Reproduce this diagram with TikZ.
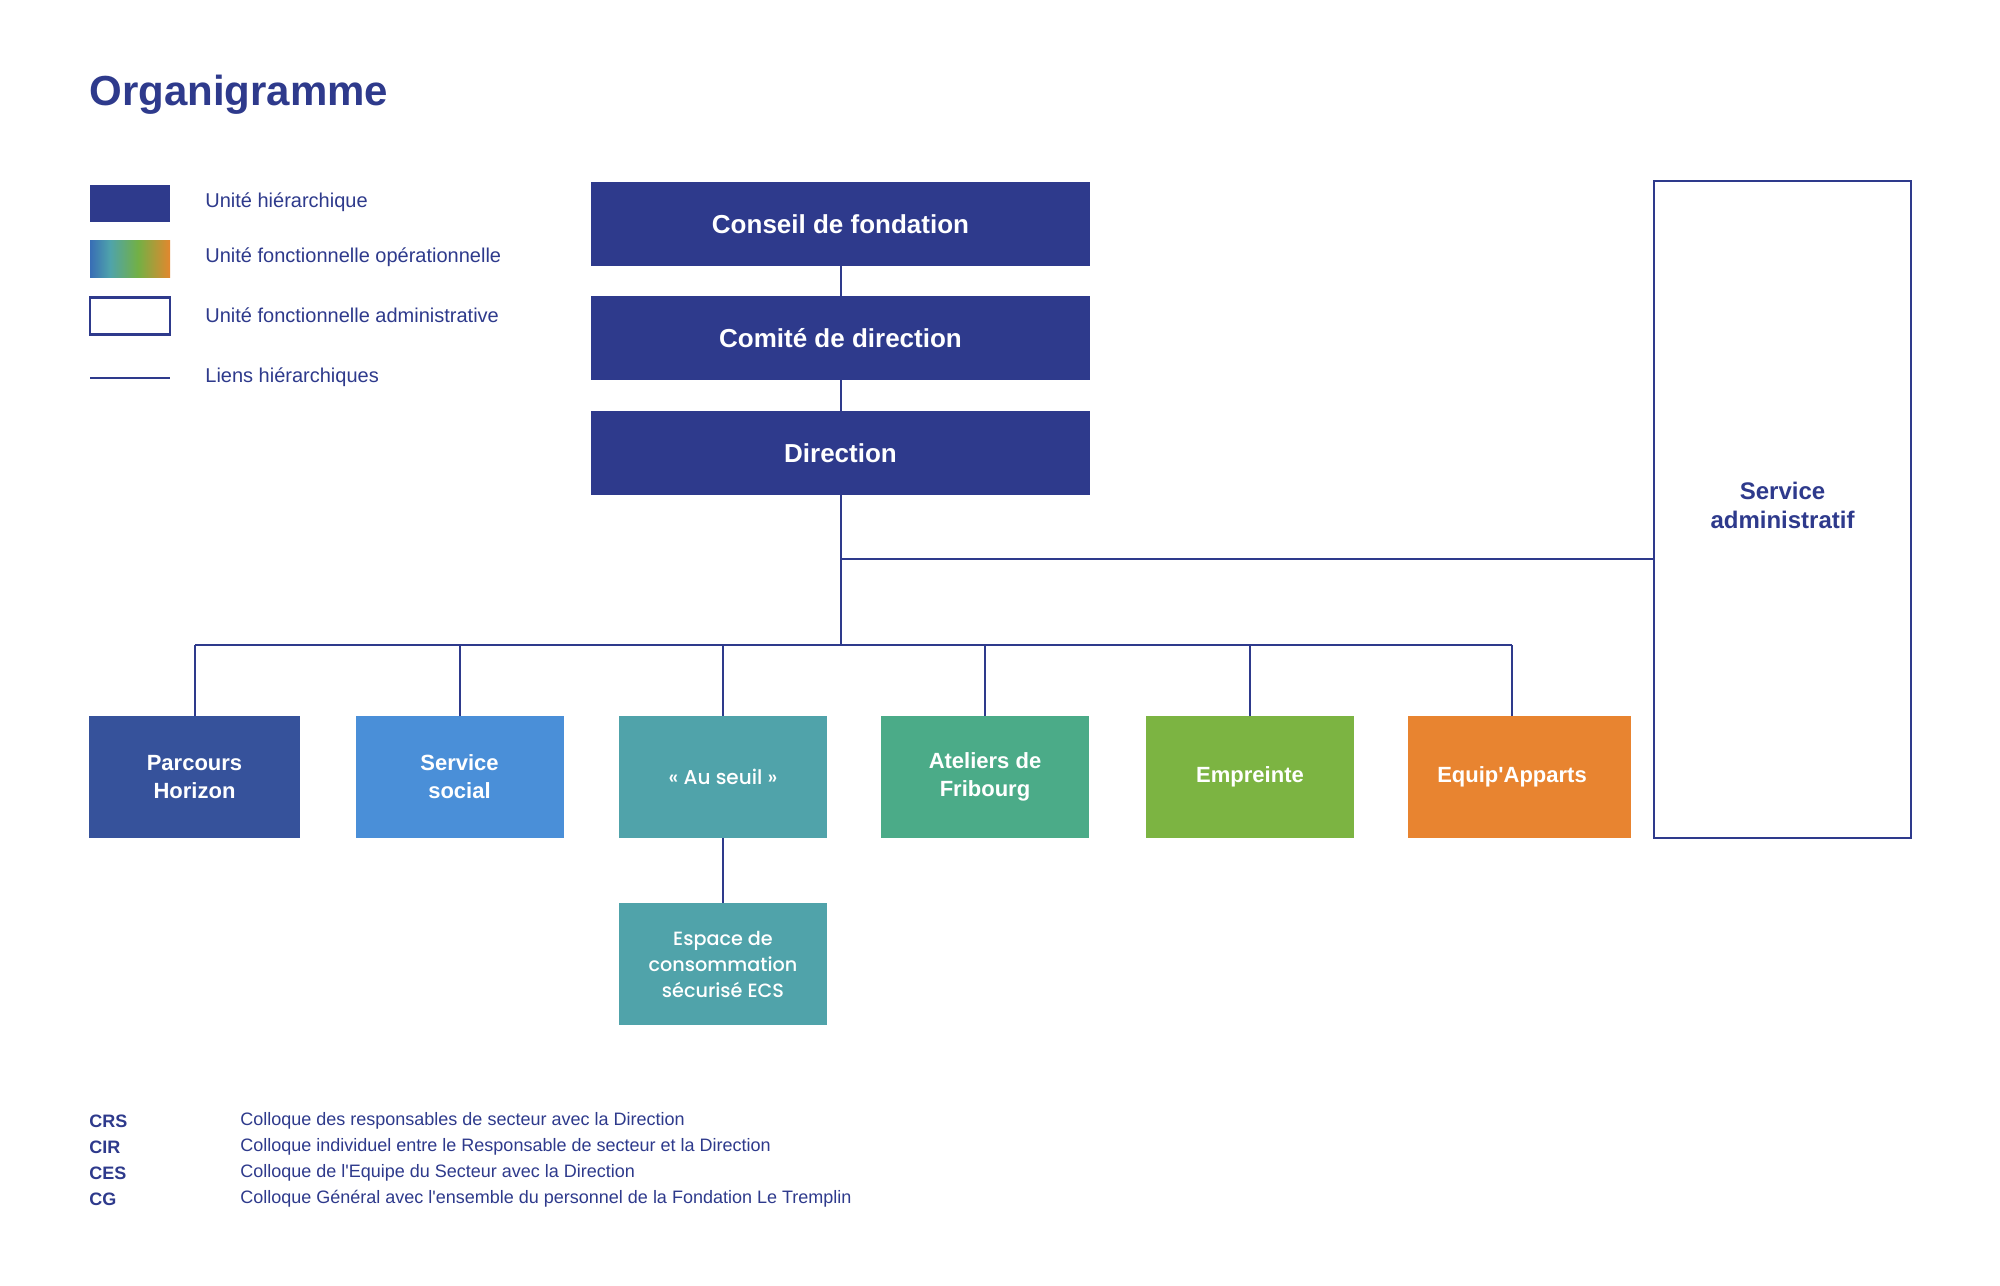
\documentclass[tikz,border=0pt]{standalone}
\usepackage{fontspec}
\setmainfont{Liberation Sans}
\newfontfamily\popfont{Poppins Medium}
\definecolor{navy}{RGB}{46,58,140}
\definecolor{cParcours}{RGB}{54,82,155}
\definecolor{cSocial}{RGB}{74,143,216}
\definecolor{cSeuil}{RGB}{80,163,170}
\definecolor{cAteliers}{RGB}{75,171,136}
\definecolor{cEmpreinte}{RGB}{124,180,66}
\definecolor{cEquip}{RGB}{232,132,48}
\pgfdeclarehorizontalshading{legendgrad}{100bp}{rgb(0bp)=(0.22,0.43,0.71); rgb(25bp)=(0.22,0.43,0.71); rgb(37.5bp)=(0.31,0.64,0.67); rgb(55bp)=(0.45,0.69,0.27); rgb(75bp)=(0.89,0.53,0.18); rgb(100bp)=(0.89,0.53,0.18)}
\tikzset{
  hbox/.style={fill=navy, text=white, font=\bfseries\fontsize{13}{16}\selectfont, minimum width=249.5pt, minimum height=42pt, inner sep=0pt},
  unitbox/.style={text=white, font=\bfseries\fontsize{11}{14}\selectfont, minimum width=104pt, minimum height=61pt, align=center, inner sep=0pt},
  popbox/.style={text=white, font=\popfont\fontsize{9.6}{13}\selectfont, minimum width=104pt, minimum height=61pt, align=center, inner sep=0pt},
  adminbox/.style={draw=navy, line width=1.2pt, text=navy, font=\bfseries\fontsize{12}{14.5}\selectfont, minimum width=128.5pt, minimum height=328.5pt, align=center, inner sep=0pt},
  link/.style={draw=navy, line width=1pt},
  legbox/.style={minimum width=40pt, minimum height=18.5pt, inner sep=0pt},
  legtext/.style={anchor=west, text=navy, font=\fontsize{10}{12}\selectfont, inner sep=0pt},
  abbr/.style={anchor=west, text=navy, font=\bfseries\fontsize{9}{11}\selectfont, inner sep=0pt},
  desc/.style={anchor=west, text=navy, font=\fontsize{9}{11}\selectfont, inner sep=0pt}
}
\begin{document}
\begin{tikzpicture}[x=0.5pt,y=-0.5pt]
\useasboundingbox (0,0) rectangle (2000,1285);
\fill[white] (0,0) rectangle (2000,1285);

% title
\node[anchor=base west, text=navy, font=\bfseries\fontsize{21}{25}\selectfont, inner sep=0pt] (title) at (89,105) {Organigramme};

% legend
\node[legbox, fill=navy] (lg1) at (130,203.5) {};
\node[legbox, shade, shading=legendgrad] (lg2) at (130,258.5) {};
\node[legbox, draw=navy, line width=1.2pt] (lg3) at (130,316) {};
\coordinate (lgA) at (90,378);
\coordinate (lgB) at (170,378);
\draw[link] (lgA) -- (lgB);
\node[legtext] (lt1) at (205,202) {Unité hiérarchique};
\node[legtext] (lt2) at (205,257) {Unité fonctionnelle opérationnelle};
\node[legtext] (lt3) at (205,315) {Unité fonctionnelle administrative};
\node[legtext] (lt4) at (205,377) {Liens hiérarchiques};

% top hierarchy
\node[hbox] (conseil) at (840.5,224) {Conseil de fondation};
\node[hbox] (comite) at (840.5,338) {Comité de direction};
\node[hbox] (dir) at (840.5,453) {Direction};

% admin
\node[adminbox] (admin) at (1782.5,509.5) {Service\\administratif\\[-10pt]\mbox{}};

% units
\node[unitbox, fill=cParcours, minimum width=105.5pt] (parcours) at (194.5,777) {Parcours\\Horizon};
\node[unitbox, fill=cSocial] (social) at (459.5,777) {Service\\social};
\node[popbox, fill=cSeuil, font=\popfont\fontsize{10}{13}\selectfont] (seuil) at (723,777) {« Au seuil »};
\node[unitbox, fill=cAteliers] (ateliers) at (985,777) {Ateliers de\\Fribourg};
\node[unitbox, fill=cEmpreinte] (empreinte) at (1250,777) {\raisebox{-1.3pt}{Empreinte}};
\node[unitbox, fill=cEquip, minimum width=111.5pt] (equip) at (1519.5,777) {\hspace*{-7.5pt}\raisebox{-1.3pt}{Equip\textquotesingle Apparts}};
\node[popbox, fill=cSeuil] (ecs) at (723,964) {Espace de\\consommation\\sécurisé ECS};

% connectors
\draw[link] (conseil) -- (comite);
\draw[link] (comite) -- (dir);
\coordinate (bus) at (840.5,645);
\coordinate (adminj) at (840.5,559);
\coordinate (busL) at (195,645);
\coordinate (busR) at (1512,645);
\draw[link] (dir.south) -- (bus);
\draw[link] (adminj) -- (adminj -| admin.west);
\draw[link] (busL) -- (busR);
\draw[link] (busL) -- (busL |- parcours.north);
\draw[link] (social.north) -- (social.north |- bus);
\draw[link] (seuil.north) -- (seuil.north |- bus);
\draw[link] (ateliers.north) -- (ateliers.north |- bus);
\draw[link] (empreinte.north) -- (empreinte.north |- bus);
\draw[link] (busR) -- (busR |- equip.north);
\draw[link] (seuil) -- (ecs);

% footer
\node[abbr] (crs) at (89,1121) {CRS};
\node[abbr] (cir) at (89,1147) {CIR};
\node[abbr] (ces) at (89,1173) {CES};
\node[abbr] (cg) at (89,1199) {CG};
\node[desc] (crsd) at (240,1121) {Colloque des responsables de secteur avec la Direction};
\node[desc] (cird) at (240,1147) {Colloque individuel entre le Responsable de secteur et la Direction};
\node[desc] (cesd) at (240,1173) {Colloque de l\textquotesingle Equipe du Secteur avec la Direction};
\node[desc] (cgd) at (240,1199) {Colloque Général avec l\textquotesingle ensemble du personnel de la Fondation Le Tremplin};
\end{tikzpicture}
\end{document}
